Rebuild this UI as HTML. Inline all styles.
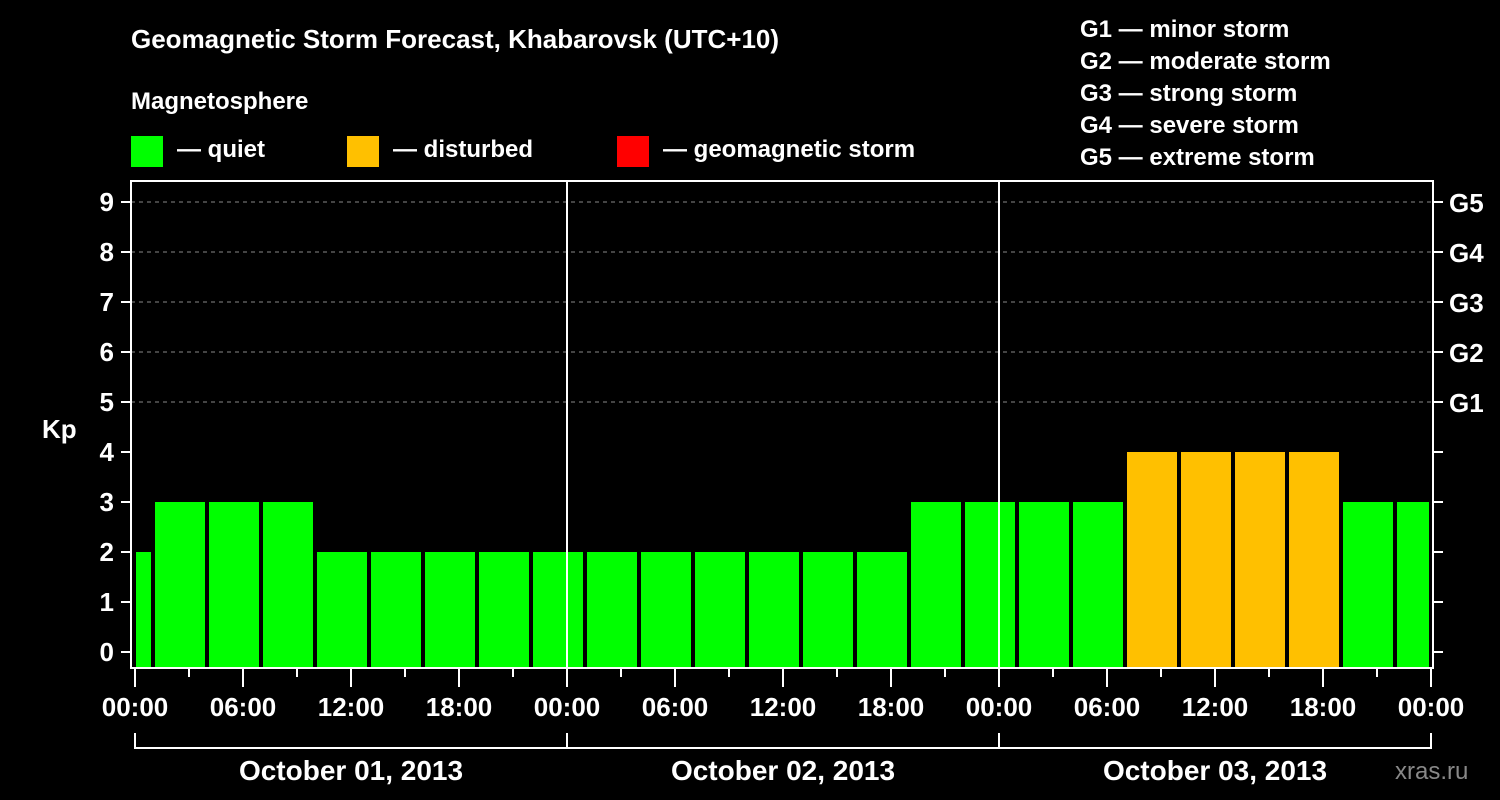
<!DOCTYPE html>
<html><head><meta charset="utf-8"><style>
html,body{margin:0;padding:0;background:#000;}
svg{display:block;font-family:"Liberation Sans",sans-serif;font-weight:bold;}
</style></head><body>
<svg id="chart" width="1500" height="800" viewBox="0 0 1500 800" xmlns="http://www.w3.org/2000/svg">
<text x="131" y="48" fill="#fff" font-size="26">Geomagnetic Storm Forecast, Khabarovsk (UTC+10)</text>
<text x="131" y="109" fill="#fff" font-size="24">Magnetosphere</text>
<g><rect x="131" y="136" width="32" height="31" fill="#00ff00"/><text x="177" y="157" fill="#fff" font-size="24">— quiet</text></g>
<g><rect x="347" y="136" width="32" height="31" fill="#ffc000"/><text x="393" y="157" fill="#fff" font-size="24">— disturbed</text></g>
<g><rect x="617" y="136" width="32" height="31" fill="#ff0000"/><text x="663" y="157" fill="#fff" font-size="24">— geomagnetic storm</text></g>
<g fill="#fff" font-size="24">
<text x="1080" y="37">G1 — minor storm</text>
<text x="1080" y="69">G2 — moderate storm</text>
<text x="1080" y="101">G3 — strong storm</text>
<text x="1080" y="133">G4 — severe storm</text>
<text x="1080" y="165">G5 — extreme storm</text>
</g>
<text x="42" y="438" fill="#fff" font-size="26">Kp</text>
<text x="1395" y="779" fill="#888" font-size="24" font-weight="normal">xras.ru</text>
<g id="grid"></g><g id="bars"></g><g id="axes"></g>
</svg>
<script>
const kpValues=[2,3,3,3,2,2,2,2,2,2,2,2,2,2,2,3,3,3,3,4,4,4,4,3,3];
const yTicks=[0,1,2,3,4,5,6,7,8,9];
const gLabels=["G1","G2","G3","G4","G5"];
const xTickLabels=["00:00","06:00","12:00","18:00","00:00","06:00","12:00","18:00","00:00","06:00","12:00","18:00","00:00"];
const dayLabels=["October 01, 2013","October 02, 2013","October 03, 2013"];
const firstBinStartHour=-2; // local hours (UTC+10), 3-hour bins
const totalHours=72;
const NS="http://www.w3.org/2000/svg";
const L=131,R=1433,T=181,B=668,X0=135,X1=1431;
function xh(h){return X0+(X1-X0)*h/totalHours;}
function yk(v){return 652-50*v;}
function mk(p,tag,a){const e=document.createElementNS(NS,tag);for(const k in a)e.setAttribute(k,a[k]);p.appendChild(e);return e;}
const grid=document.getElementById('grid'),bars=document.getElementById('bars'),axes=document.getElementById('axes');
for(let i=5;i<=9;i++){const l=mk(grid,'line',{x1:L,x2:R,y1:yk(i),y2:yk(i),stroke:'#888','stroke-dasharray':'4,4','stroke-width':1});

}
kpValues.forEach((v,i)=>{
 let s=Math.max(0,firstBinStartHour+3*i),e=Math.min(totalHours,firstBinStartHour+3*i+3);
 const xa=xh(s)+(s===0?1:2),xb=xh(e)-2;
 const c=v>=5?'#ff0000':(v>=4?'#ffc000':'#00ff00');
 const r=mk(bars,'rect',{x:xa,y:yk(v),width:xb-xa,height:B-yk(v),fill:c});
 
 
});
// day separators
for(let d=1;d<3;d++){const l=mk(axes,'line',{x1:xh(24*d),x2:xh(24*d),y1:T,y2:B,stroke:'#fff','stroke-width':2});

}
const fr=mk(axes,'rect',{x:L,y:T,width:R-L,height:B-T,fill:'none',stroke:'#fff','stroke-width':2});


yTicks.forEach(v=>{
 mk(axes,'line',{x1:121,x2:L,y1:yk(v),y2:yk(v),stroke:'#fff','stroke-width':2});
 mk(axes,'line',{x1:R,x2:1443,y1:yk(v),y2:yk(v),stroke:'#fff','stroke-width':2});
 const t=mk(axes,'text',{x:114,y:yk(v)+9,fill:'#fff','font-size':26,'text-anchor':'end'});t.textContent=v;
 
 
});
gLabels.forEach((g,i)=>{const t=mk(axes,'text',{x:1449,y:yk(5+i)+10,fill:'#fff','font-size':26});t.textContent=g;
 
 });
for(let h=0;h<=totalHours;h+=3){const major=h%6===0;mk(axes,'line',{x1:xh(h),x2:xh(h),y1:B,y2:major?687:677,stroke:'#fff','stroke-width':2});}
xTickLabels.forEach((s,i)=>{const t=mk(axes,'text',{x:xh(6*i),y:716,fill:'#fff','font-size':26,'text-anchor':'middle'});t.textContent=s;
 
 });
mk(axes,'path',{d:`M${xh(0)},733V748H${xh(72)}V733M${xh(24)},733V748M${xh(48)},733V748`,fill:'none',stroke:'#fff','stroke-width':2});
dayLabels.forEach((s,i)=>{const t=mk(axes,'text',{x:xh(24*i+12),y:780,fill:'#fff','font-size':28,'text-anchor':'middle'});t.textContent=s;
 
 });
</script>
</body></html>
